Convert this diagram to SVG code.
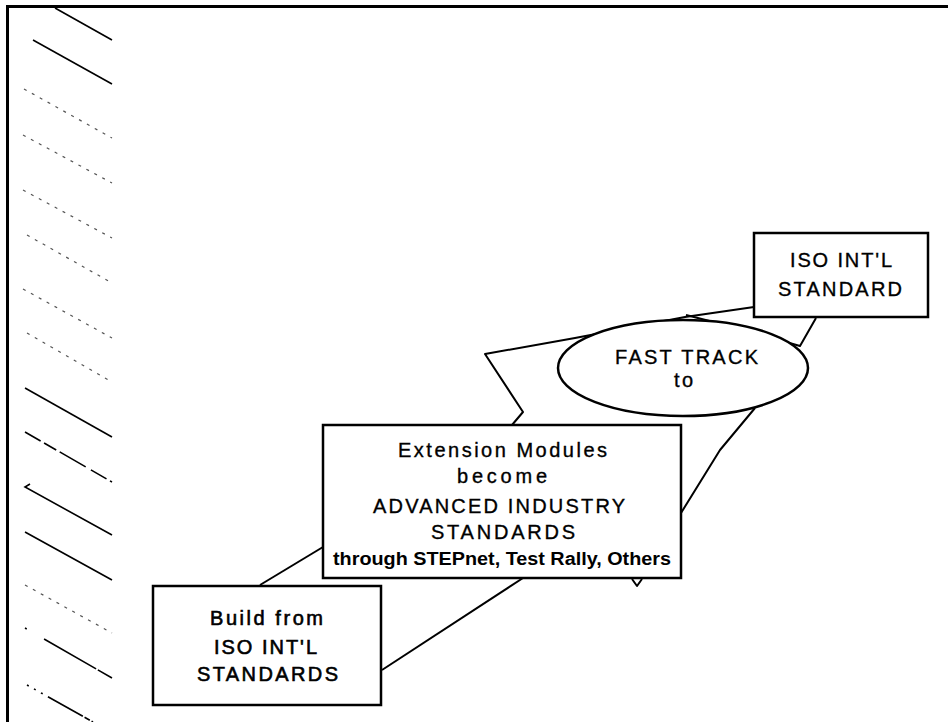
<svg xmlns="http://www.w3.org/2000/svg" width="952" height="722" viewBox="0 0 952 722">
<style>
.frame{stroke:#000;stroke-width:3;fill:none}
.box{fill:#fff;stroke:#000;stroke-width:2.5}
.conn{fill:none;stroke:#000;stroke-width:2;stroke-linejoin:round}
.hatch{fill:none;stroke:#000;stroke-width:1.6}
.faint{fill:none;stroke:#555;stroke-width:1.2;stroke-dasharray:3 6}
.t{font-family:"Liberation Sans",Arial,sans-serif;font-size:20px;fill:#000;stroke:#000;stroke-width:0.35}
.tb{font-family:"Liberation Sans",Arial,sans-serif;font-size:18px;font-weight:bold;fill:#000}
</style>
<rect width="952" height="722" fill="#fff"/>
<g id="frame">
<path class="frame" d="M7.5 722 V6.5 H948"/>
</g>
<g id="hatching">
<path class="hatch" d="M55 8 L112 40"/>
<path class="hatch" d="M33 40 L112 84"/>
<path class="faint" d="M24 89 L112 138"/>
<path class="faint" d="M23 135 L112 183"/>
<path class="faint" d="M23 190 L112 238"/>
<path class="faint" d="M27 235 L112 283"/>
<path class="faint" d="M23 289 L112 338"/>
<path class="faint" d="M27 333 L112 382"/>
<path class="hatch" d="M25 388 L112 437"/>
<path class="hatch" d="M25 432 L112 482" stroke-dasharray="18 4 14 4 30 6"/>
<path class="hatch" d="M30 484 L25 487 L112 535"/>
<path class="hatch" d="M25 532 L112 580"/>
<path class="faint" d="M25 585 L112 633"/>
<path class="hatch" d="M25 628 L112 678" stroke-dasharray="2 20 60"/>
<path class="hatch" d="M27 685 L93 722" stroke-dasharray="2 6 2 6 2 6 40"/>
</g>
<g id="connectors">
<path class="conn" d="M260 585 L323 547"/>
<path class="conn" d="M382 670 L523 578"/>
<path class="conn" d="M681 513 L720 450 L755 408"/>
<path class="conn" d="M512 425 L523 412 L485 354 L575 338 L685 317 L754 307"/>
<path class="conn" d="M686 315 L745 330 L800 346 L816 318"/>
<path class="conn" d="M632 579 L637 586 L642 579"/>
</g>
<g id="node-iso-standard">
<rect class="box" x="754" y="233" width="174" height="84"/>
<text class="t" x="790" y="267" textLength="102" lengthAdjust="spacing">ISO INT'L</text>
<text class="t" x="778" y="296" textLength="124" lengthAdjust="spacing">STANDARD</text>
</g>
<g id="node-fast-track">
<ellipse class="box" cx="683" cy="368" rx="125" ry="48"/>
<text class="t" x="615" y="364" textLength="143" lengthAdjust="spacing">FAST TRACK</text>
<text class="t" x="674" y="387" textLength="19" lengthAdjust="spacing">to</text>
</g>
<g id="node-extension">
<rect class="box" x="323" y="425" width="358" height="153"/>
<text class="t" x="398" y="457" textLength="209" lengthAdjust="spacing">Extension Modules</text>
<text class="t" x="457" y="483" textLength="90" lengthAdjust="spacing">become</text>
<text class="t" x="373" y="513" textLength="252" lengthAdjust="spacing">ADVANCED INDUSTRY</text>
<text class="t" x="431" y="539" textLength="144" lengthAdjust="spacing">STANDARDS</text>
<text class="tb" x="333" y="565" textLength="338" lengthAdjust="spacingAndGlyphs">through STEPnet, Test Rally, Others</text>
</g>
<g id="node-build">
<rect class="box" x="153" y="586" width="228" height="119"/>
<text class="t" x="210" y="625" textLength="113" lengthAdjust="spacing" style="stroke-width:0.6">Build from</text>
<text class="t" x="214" y="654" textLength="103" lengthAdjust="spacing" style="stroke-width:0.6">ISO INT'L</text>
<text class="t" x="197" y="681" textLength="141" lengthAdjust="spacing" style="stroke-width:0.6">STANDARDS</text>
</g>
</svg>
